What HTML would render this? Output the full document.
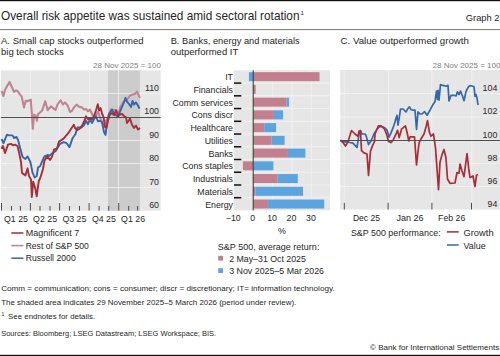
<!DOCTYPE html>
<html><head><meta charset="utf-8">
<style>
html,body{margin:0;padding:0;background:#fff;}
body{width:500px;height:356px;overflow:hidden;}
svg{display:block;font-family:"Liberation Sans", sans-serif;}
</style></head><body>
<svg width="500" height="356" viewBox="0 0 500 356">
<rect x="0" y="0" width="500" height="1.2" fill="#111"/>
<text x="1" y="20.2" font-size="11.9" text-anchor="start" fill="#262626" textLength="298.5" lengthAdjust="spacingAndGlyphs">Overall risk appetite was sustained amid sectoral rotation</text>
<text x="300.6" y="14.6" font-size="6.2" text-anchor="start" fill="#262626">1</text>
<text x="499.5" y="20.9" font-size="9" text-anchor="end" fill="#262626" textLength="33.7" lengthAdjust="spacingAndGlyphs">Graph 2</text>
<rect x="0" y="29.1" width="500" height="1" fill="#777"/>
<text x="1" y="44" font-size="9.5" text-anchor="start" fill="#262626" textLength="142.5" lengthAdjust="spacingAndGlyphs">A. Small cap stocks outperformed</text>
<text x="1" y="54.8" font-size="9.5" text-anchor="start" fill="#262626">big tech stocks</text>
<text x="170.7" y="44" font-size="9.5" text-anchor="start" fill="#262626" textLength="128.9" lengthAdjust="spacingAndGlyphs">B. Banks, energy and materials</text>
<text x="170.7" y="54.8" font-size="9.5" text-anchor="start" fill="#262626">outperformed IT</text>
<text x="340.6" y="44" font-size="9.5" text-anchor="start" fill="#262626" textLength="128.3" lengthAdjust="spacingAndGlyphs">C. Value outperformed growth</text>
<rect x="0.8" y="70.4" width="159.9" height="140.3" fill="#e6e6e6"/>
<rect x="108" y="70.4" width="32" height="140.3" fill="#cccccc"/>
<rect x="30" y="70.4" width="1" height="140.3" fill="#f4f4f4" opacity="0.75"/>
<rect x="59" y="70.4" width="1" height="140.3" fill="#f4f4f4" opacity="0.75"/>
<rect x="89" y="70.4" width="1" height="140.3" fill="#f4f4f4" opacity="0.75"/>
<rect x="118" y="70.4" width="1" height="140.3" fill="#f4f4f4" opacity="0.75"/>
<rect x="0.8" y="93" width="159.9" height="1" fill="#f4f4f4" opacity="0.75"/>
<rect x="0.8" y="140" width="159.9" height="1" fill="#f4f4f4" opacity="0.75"/>
<rect x="0.8" y="163" width="159.9" height="1" fill="#f4f4f4" opacity="0.75"/>
<rect x="0.8" y="187" width="159.9" height="1" fill="#f4f4f4" opacity="0.75"/>
<text x="93" y="68" font-size="8" text-anchor="start" fill="#808080" textLength="68" lengthAdjust="spacingAndGlyphs">28 Nov 2025 = 100</text>
<text x="159" y="90.85" font-size="8.8" text-anchor="end" fill="#262626">110</text>
<text x="159" y="114.30" font-size="8.8" text-anchor="end" fill="#262626">100</text>
<text x="159" y="137.75" font-size="8.8" text-anchor="end" fill="#262626">90</text>
<text x="159" y="161.20" font-size="8.8" text-anchor="end" fill="#262626">80</text>
<text x="159" y="184.65" font-size="8.8" text-anchor="end" fill="#262626">70</text>
<text x="159" y="208.10" font-size="8.8" text-anchor="end" fill="#262626">60</text>
<rect x="1.0" y="203" width="1" height="7.6" fill="#4a4a4a"/>
<rect x="29.9" y="203" width="1" height="7.6" fill="#4a4a4a"/>
<rect x="59.1" y="203" width="1" height="7.6" fill="#4a4a4a"/>
<rect x="88.6" y="203" width="1" height="7.6" fill="#4a4a4a"/>
<rect x="118.2" y="203" width="1" height="7.6" fill="#4a4a4a"/>
<rect x="10.95" y="206" width="1" height="4.6" fill="#4a4a4a"/>
<rect x="19.9" y="206" width="1" height="4.6" fill="#4a4a4a"/>
<rect x="39.5" y="206" width="1" height="4.6" fill="#4a4a4a"/>
<rect x="49.5" y="206" width="1" height="4.6" fill="#4a4a4a"/>
<rect x="69.05" y="206" width="1" height="4.6" fill="#4a4a4a"/>
<rect x="79.0" y="206" width="1" height="4.6" fill="#4a4a4a"/>
<rect x="98.6" y="206" width="1" height="4.6" fill="#4a4a4a"/>
<rect x="108.2" y="206" width="1" height="4.6" fill="#4a4a4a"/>
<rect x="128.2" y="206" width="1" height="4.6" fill="#4a4a4a"/>
<rect x="137.1" y="206" width="1" height="4.6" fill="#4a4a4a"/>
<text x="16" y="221.7" font-size="8.8" text-anchor="middle" fill="#262626" textLength="24" lengthAdjust="spacingAndGlyphs">Q1 25</text>
<text x="45.1" y="221.7" font-size="8.8" text-anchor="middle" fill="#262626" textLength="24" lengthAdjust="spacingAndGlyphs">Q2 25</text>
<text x="74.4" y="221.7" font-size="8.8" text-anchor="middle" fill="#262626" textLength="24" lengthAdjust="spacingAndGlyphs">Q3 25</text>
<text x="103.9" y="221.7" font-size="8.8" text-anchor="middle" fill="#262626" textLength="24" lengthAdjust="spacingAndGlyphs">Q4 25</text>
<text x="133.1" y="221.7" font-size="8.8" text-anchor="middle" fill="#262626" textLength="24" lengthAdjust="spacingAndGlyphs">Q1 26</text>
<polyline points="1.5,91 3.5,96 5,89.7 9.5,82 14,91.8 16,90.4 17.5,91 19.5,93.9 21.7,96.7 24,107.4 25.7,100.7 27.4,101.2 30.7,99.6 31.9,114.2 32.8,128.8 34.1,114.7 35.8,115.8 36.9,120.9 38,114.2 42,110.8 45.3,101.2 47.6,110.2 51,106.3 54.3,109.1 55.5,110 57.5,104.5 60.5,100.3 63,104.5 65,102.4 67.5,105.2 70,112 72,110.7 74,107.4 76.5,104.6 79,106.8 82,107.4 84,109.6 86,109 88,111.3 90,109.6 92,114 94,117.5 96,115.2 98,111.9 100,117.5 102,122.5 104,125.3 106,120.8 108,117.5 111,109.5 116,110.2 119,113 120,107.8 123,102.4 126,100 128,98.5 130,95.5 132,94.7 135,93.9 137,91.6 139,96.2 140,97.8" fill="none" stroke="#c08394" stroke-width="2.1" stroke-linejoin="round"/>
<polyline points="1.5,139 3.5,143.2 7,134.7 9,135.4 12.5,135.4 14,138 16.5,137 18,139.7 20,147.4 22.6,157 25.4,159 27.6,156.4 30.4,162 32.5,172.5 34.6,177.5 36.7,176 38,167.6 40.2,166 41.6,162.7 44.4,156.4 47.9,155 48.9,156 52.8,153 55.7,151 59.7,144.2 63.6,142.2 66.6,143.2 69.5,147.1 72.5,138.3 75.4,134.3 77.4,127.5 81.3,127.5 84,125.3 86,120.8 88,124.2 90,119.2 92,123 94,119.2 96,116.3 98,121.4 100,120.8 102,122 104,132 105.5,134.9 107,123.7 109,113.8 112,109.6 114,113.8 116,115.2 118,116.6 120,111.7 122,107 124,102.4 125.5,97.8 127,101.6 129,104 131,107 132.5,100.9 134,104.7 136,102.4 138,105.5 139.5,108.6" fill="none" stroke="#3566ab" stroke-width="1.9" stroke-linejoin="round"/>
<polyline points="1.5,148.8 3,146 5,153 8,144.6 11,143.9 13,145.3 15,144.6 17.5,146 19,152.3 21,162 22,173 25.4,175.4 27.6,168.3 29,176 31,179.6 31.8,197 33.2,181.7 35.3,188.7 36.7,196.4 38.8,181 40.2,178.2 43,169 44.4,160.6 47.2,156.4 50,160 52.1,156.4 54.1,149.3 57,148.6 59,141.6 63.3,138.8 68.2,133.2 71,129 73.8,124.7 75.2,128.3 77.3,130 79.4,129 82.2,125.4 84.5,120.3 86,116.3 88,119.2 90,118 92,119.2 94,116.3 96,110.2 97.8,104.2 99,110.5 100.5,108 102,113.5 103.5,116.8 105,127 106.5,127.8 108,120.2 110,114.5 112,113.1 114,115.2 116,110.3 118,116 120,114.5 122,113.8 124,116 126,117.3 127,123 128.5,121 130,118.6 132,124.8 134,127.9 136,125.6 138,129.5 140,127.9" fill="none" stroke="#a82d36" stroke-width="1.9" stroke-linejoin="round"/>
<rect x="0.8" y="117" width="159.9" height="1" fill="#505050"/>
<rect x="11.3" y="232.25" width="12.1" height="1.5" fill="#a82d36"/>
<text x="25.7" y="236.00" font-size="8.8" text-anchor="start" fill="#262626" textLength="53.6" lengthAdjust="spacingAndGlyphs">Magnificent 7</text>
<rect x="11.3" y="244.85" width="12.1" height="1.5" fill="#c08394"/>
<text x="25.7" y="248.60" font-size="8.8" text-anchor="start" fill="#262626" textLength="63.1" lengthAdjust="spacingAndGlyphs">Rest of S&amp;P 500</text>
<rect x="11.3" y="257.45" width="12.1" height="1.5" fill="#3566ab"/>
<text x="25.7" y="261.20" font-size="8.8" text-anchor="start" fill="#262626" textLength="50" lengthAdjust="spacingAndGlyphs">Russell 2000</text>
<rect x="233.8" y="70.3" width="96.2" height="140.10000000000002" fill="#e6e6e6"/>
<rect x="241.3" y="82.54" width="88.7" height="1" fill="#f4f4f4" opacity="0.8"/>
<rect x="241.3" y="95.27" width="88.7" height="1" fill="#f4f4f4" opacity="0.8"/>
<rect x="241.3" y="108.01" width="88.7" height="1" fill="#f4f4f4" opacity="0.8"/>
<rect x="241.3" y="120.75" width="88.7" height="1" fill="#f4f4f4" opacity="0.8"/>
<rect x="241.3" y="133.48" width="88.7" height="1" fill="#f4f4f4" opacity="0.8"/>
<rect x="241.3" y="146.22" width="88.7" height="1" fill="#f4f4f4" opacity="0.8"/>
<rect x="241.3" y="158.95" width="88.7" height="1" fill="#f4f4f4" opacity="0.8"/>
<rect x="241.3" y="171.69" width="88.7" height="1" fill="#f4f4f4" opacity="0.8"/>
<rect x="241.3" y="184.43" width="88.7" height="1" fill="#f4f4f4" opacity="0.8"/>
<rect x="241.3" y="197.16" width="88.7" height="1" fill="#f4f4f4" opacity="0.8"/>
<rect x="272.10" y="70.3" width="1" height="140.10000000000002" fill="#f4f4f4" opacity="0.8"/>
<rect x="291.50" y="70.3" width="1" height="140.10000000000002" fill="#f4f4f4" opacity="0.8"/>
<rect x="310.90" y="70.3" width="1" height="140.10000000000002" fill="#f4f4f4" opacity="0.8"/>
<rect x="253.20" y="72.17" width="66.35" height="9" fill="#c2808f"/>
<rect x="248.93" y="72.17" width="4.27" height="9" fill="#5ba4e0"/>
<text x="233" y="80.17" font-size="8.8" text-anchor="end" fill="#262626">IT</text>
<rect x="253.20" y="84.90" width="2.52" height="9" fill="#c2808f"/>
<text x="233" y="92.90" font-size="8.8" text-anchor="end" fill="#262626">Financials</text>
<rect x="253.20" y="97.64" width="33.37" height="9" fill="#c2808f"/>
<rect x="286.57" y="97.64" width="2.52" height="9" fill="#5ba4e0"/>
<text x="233" y="105.64" font-size="8.8" text-anchor="end" fill="#262626">Comm services</text>
<rect x="253.20" y="110.38" width="20.76" height="9" fill="#c2808f"/>
<rect x="273.96" y="110.38" width="9.12" height="9" fill="#5ba4e0"/>
<text x="233" y="118.38" font-size="8.8" text-anchor="end" fill="#262626">Cons discr</text>
<rect x="253.20" y="123.11" width="11.06" height="9" fill="#c2808f"/>
<rect x="264.26" y="123.11" width="11.83" height="9" fill="#5ba4e0"/>
<text x="233" y="131.11" font-size="8.8" text-anchor="end" fill="#262626">Healthcare</text>
<rect x="253.20" y="135.85" width="18.43" height="9" fill="#c2808f"/>
<rect x="271.63" y="135.85" width="13.00" height="9" fill="#5ba4e0"/>
<text x="233" y="143.85" font-size="8.8" text-anchor="end" fill="#262626">Utilities</text>
<rect x="253.20" y="148.59" width="34.73" height="9" fill="#c2808f"/>
<rect x="287.93" y="148.59" width="17.46" height="9" fill="#5ba4e0"/>
<text x="233" y="156.59" font-size="8.8" text-anchor="end" fill="#262626">Banks</text>
<rect x="242.92" y="161.32" width="10.28" height="9" fill="#c2808f"/>
<rect x="253.20" y="161.32" width="20.18" height="9" fill="#5ba4e0"/>
<text x="233" y="169.32" font-size="8.8" text-anchor="end" fill="#262626">Cons staples</text>
<rect x="253.20" y="174.06" width="24.44" height="9" fill="#c2808f"/>
<rect x="277.64" y="174.06" width="20.18" height="9" fill="#5ba4e0"/>
<text x="233" y="182.06" font-size="8.8" text-anchor="end" fill="#262626">Industrials</text>
<rect x="253.20" y="186.80" width="2.33" height="9" fill="#c2808f"/>
<rect x="255.53" y="186.80" width="47.53" height="9" fill="#5ba4e0"/>
<text x="233" y="194.80" font-size="8.8" text-anchor="end" fill="#262626">Materials</text>
<rect x="253.20" y="199.53" width="14.74" height="9" fill="#c2808f"/>
<rect x="267.94" y="199.53" width="56.26" height="9" fill="#5ba4e0"/>
<text x="233" y="207.53" font-size="8.8" text-anchor="end" fill="#262626">Energy</text>
<rect x="234" y="82.34" width="7.3" height="1.5" fill="#111"/>
<rect x="234" y="95.07" width="7.3" height="1.5" fill="#111"/>
<rect x="234" y="107.81" width="7.3" height="1.5" fill="#111"/>
<rect x="234" y="120.55" width="7.3" height="1.5" fill="#111"/>
<rect x="234" y="133.28" width="7.3" height="1.5" fill="#111"/>
<rect x="234" y="146.02" width="7.3" height="1.5" fill="#111"/>
<rect x="234" y="158.75" width="7.3" height="1.5" fill="#111"/>
<rect x="234" y="171.49" width="7.3" height="1.5" fill="#111"/>
<rect x="234" y="184.23" width="7.3" height="1.5" fill="#111"/>
<rect x="234" y="196.96" width="7.3" height="1.5" fill="#111"/>
<rect x="252.7" y="70.3" width="1" height="140.10000000000002" fill="#333"/>
<text x="233.30" y="221.4" font-size="8.8" text-anchor="middle" fill="#262626">−10</text>
<text x="252.70" y="221.4" font-size="8.8" text-anchor="middle" fill="#262626">0</text>
<text x="272.10" y="221.4" font-size="8.8" text-anchor="middle" fill="#262626">10</text>
<text x="291.50" y="221.4" font-size="8.8" text-anchor="middle" fill="#262626">20</text>
<text x="310.90" y="221.4" font-size="8.8" text-anchor="middle" fill="#262626">30</text>
<text x="281.8" y="233.5" font-size="8.8" text-anchor="middle" fill="#262626">%</text>
<text x="217.8" y="249.9" font-size="8.8" text-anchor="start" fill="#262626" textLength="101.6" lengthAdjust="spacingAndGlyphs">S&amp;P 500, average return:</text>
<rect x="218.2" y="255.8" width="4.8" height="4.8" fill="#c2808f"/>
<text x="229.2" y="261.8" font-size="8.8" text-anchor="start" fill="#262626" textLength="76.7" lengthAdjust="spacingAndGlyphs">2 May–31 Oct 2025</text>
<rect x="218.2" y="268.2" width="4.8" height="4.8" fill="#5ba4e0"/>
<text x="229.2" y="273.5" font-size="8.8" text-anchor="start" fill="#262626" textLength="94.8" lengthAdjust="spacingAndGlyphs">3 Nov 2025–5 Mar 2026</text>
<rect x="340.3" y="70" width="159.7" height="139.5" fill="#e6e6e6"/>
<rect x="343.6" y="70" width="1" height="139.5" fill="#f4f4f4" opacity="0.75"/>
<rect x="388" y="70" width="1" height="139.5" fill="#f4f4f4" opacity="0.75"/>
<rect x="431.2" y="70" width="1" height="139.5" fill="#f4f4f4" opacity="0.75"/>
<rect x="471.2" y="70" width="1" height="139.5" fill="#f4f4f4" opacity="0.75"/>
<rect x="340.3" y="93" width="159.7" height="1" fill="#f4f4f4" opacity="0.75"/>
<rect x="340.3" y="116.5" width="159.7" height="1" fill="#f4f4f4" opacity="0.75"/>
<rect x="340.3" y="163" width="159.7" height="1" fill="#f4f4f4" opacity="0.75"/>
<rect x="340.3" y="186" width="159.7" height="1" fill="#f4f4f4" opacity="0.75"/>
<text x="500.5" y="67.8" font-size="8" text-anchor="end" fill="#808080" textLength="68" lengthAdjust="spacingAndGlyphs">28 Nov 2025 = 100</text>
<text x="497.3" y="90.90" font-size="8.8" text-anchor="end" fill="#262626">104</text>
<text x="497.3" y="114.20" font-size="8.8" text-anchor="end" fill="#262626">102</text>
<text x="497.3" y="137.50" font-size="8.8" text-anchor="end" fill="#262626">100</text>
<text x="497.3" y="160.80" font-size="8.8" text-anchor="end" fill="#262626">98</text>
<text x="497.3" y="184.10" font-size="8.8" text-anchor="end" fill="#262626">96</text>
<text x="497.3" y="207.40" font-size="8.8" text-anchor="end" fill="#262626">94</text>
<rect x="343.8" y="202.8" width="1" height="6.7" fill="#4a4a4a"/>
<rect x="387.6" y="202.8" width="1" height="6.7" fill="#4a4a4a"/>
<rect x="431.4" y="202.8" width="1" height="6.7" fill="#4a4a4a"/>
<rect x="471.0" y="202.8" width="1" height="6.7" fill="#4a4a4a"/>
<text x="366.5" y="220.7" font-size="8.8" text-anchor="middle" fill="#262626" textLength="27.2" lengthAdjust="spacingAndGlyphs">Dec 25</text>
<text x="410" y="220.7" font-size="8.8" text-anchor="middle" fill="#262626" textLength="27.2" lengthAdjust="spacingAndGlyphs">Jan 26</text>
<text x="451.7" y="220.7" font-size="8.8" text-anchor="middle" fill="#262626" textLength="27.2" lengthAdjust="spacingAndGlyphs">Feb 26</text>
<polyline points="340.5,140.4 344,141.8 348,141.8 350,142.5 353,143.2 355,145.3 357,147.4 359,134.7 360.5,130.5 362,134 365,134 366,135.4 368.5,144.6 371,141 374,134 377,129.1 380,126.3 383,127 385,128 387,130.1 389,137.1 391,132.9 394,125.2 396,118.2 397,115.4 398,125.2 399.5,116.1 400.5,109 403,109 406,111.9 408,108.3 409.5,106.9 411,109.7 413,110.2 415,110.2 416.5,129.4 418,111.9 420,114 422,114 424.5,111.6 427,115.2 430,110.2 433,104.4 435,101.6 436.5,91.1 437.5,99.5 438,90.4 439,100.2 440.5,84.7 443,85.4 446,86.2 448,85.4 449,100.9 451,95.3 454,95.3 456,96 457.5,91.8 459,94.6 460.5,91.1 462.5,96 464,100.7 466,91.6 468,87.4 470,85.7 472,86 474,86.7 475,96.5 476,94.4 477,98 478,105" fill="none" stroke="#3566ab" stroke-width="1.7" stroke-linejoin="round"/>
<polyline points="340.5,140.4 343,142.5 345.5,146 348,141.8 351.5,130.5 355,134 358,136.2 359,131.2 360.5,131 361.5,150.7 364,152.9 367,154 368.5,175.4 370.5,151.2 372.5,145.6 374.5,141.7 375,134.2 378.4,125.8 381.2,125.8 384.6,129.2 386.9,135.3 388.5,141.5 390.8,142.6 393,140.4 396.4,133.1 397.5,130.3 399.2,137.6 401.5,129.2 405.4,125.8 407.1,132.5 408.8,141 410,136.9 414.5,136.9 416.5,165 419,143.2 421,139 424,134 426,127 427.5,120.7 429.5,132.6 431,136.2 433.5,134 435.5,148 438.5,189.6 440,162.2 442,154.8 444,149.5 446,158 447.5,179 450,183.3 455,183 457,172.5 459,173.2 460,164 462,171 464,176.7 467,153.5 469,171 470,177.4 473,176 475,186.5 476.5,175.3 478,174.6" fill="none" stroke="#a82d36" stroke-width="1.7" stroke-linejoin="round"/>
<rect x="340.3" y="140" width="159.7" height="1" fill="#505050"/>
<text x="350.9" y="235.9" font-size="8.8" text-anchor="start" fill="#262626" textLength="89.9" lengthAdjust="spacingAndGlyphs">S&amp;P 500 performance:</text>
<rect x="446.9" y="231.15" width="11.8" height="1.5" fill="#a82d36"/>
<text x="463.5" y="235.9" font-size="8.8" text-anchor="start" fill="#262626" textLength="30.1" lengthAdjust="spacingAndGlyphs">Growth</text>
<rect x="446.9" y="244.25" width="11.8" height="1.5" fill="#3566ab"/>
<text x="463.5" y="248.5" font-size="8.8" text-anchor="start" fill="#262626" textLength="22.1" lengthAdjust="spacingAndGlyphs">Value</text>
<text x="1.2" y="291.3" font-size="8.1" text-anchor="start" fill="#262626" textLength="333.5" lengthAdjust="spacingAndGlyphs">Comm = communication; cons = consumer; discr = discretionary; IT= information technology.</text>
<text x="1.2" y="305.2" font-size="8.1" text-anchor="start" fill="#262626" textLength="295.1" lengthAdjust="spacingAndGlyphs">The shaded area indicates 29 November 2025–5 March 2026 (period under review).</text>
<text x="1.6" y="316.3" font-size="5" text-anchor="start" fill="#262626">1</text>
<text x="8.1" y="319.1" font-size="8.1" text-anchor="start" fill="#262626" textLength="87" lengthAdjust="spacingAndGlyphs">See endnotes for details.</text>
<text x="1.2" y="336.2" font-size="8.1" text-anchor="start" fill="#262626" textLength="215" lengthAdjust="spacingAndGlyphs">Sources: Bloomberg; LSEG Datastream; LSEG Workspace; BIS.</text>
<text x="499.2" y="349.5" font-size="8.1" text-anchor="end" fill="#262626" textLength="129.2" lengthAdjust="spacingAndGlyphs">© Bank for International Settlements</text>
<rect x="0" y="354.8" width="500" height="1.2" fill="#111"/>
</svg>
</body></html>
